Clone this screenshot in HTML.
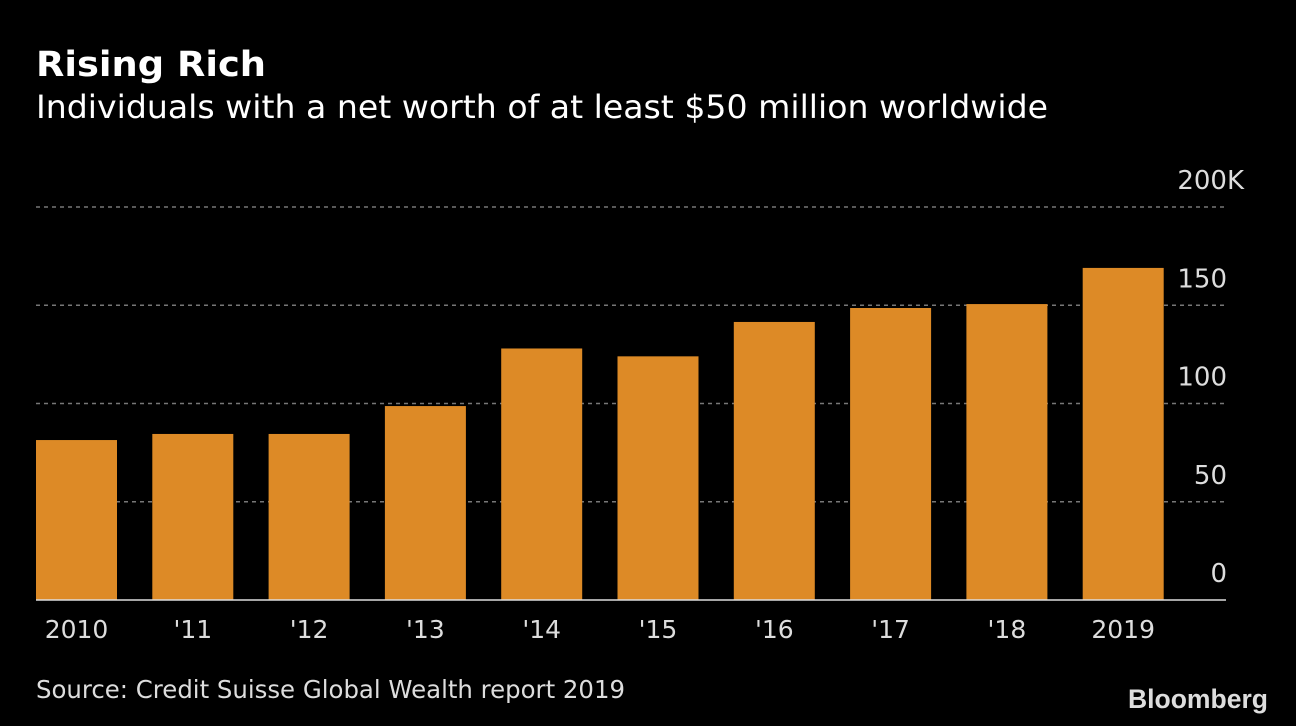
<!DOCTYPE html>
<html><head><meta charset="utf-8"><style>
html,body{margin:0;padding:0;background:#000;}
svg{display:block;font-family:"DejaVu Sans","Liberation Sans",sans-serif;}
</style></head><body>
<svg id="chart" width="1296" height="726" viewBox="0 0 1296 726" xmlns="http://www.w3.org/2000/svg">
<rect width="1296" height="726" fill="#000"/>
<text x="36" y="76" fill="#fff" font-size="35" font-weight="bold" textLength="230" lengthAdjust="spacingAndGlyphs">Rising Rich</text>
<text x="36" y="118" fill="#fff" font-size="32" textLength="1012" lengthAdjust="spacingAndGlyphs">Individuals with a net worth of at least $50 million worldwide</text>
<g id="grid"></g>
<g id="bars"></g>
<g id="xlabels"></g>
<line x1="36" y1="600" x2="1226" y2="600" stroke="#ddd" stroke-width="1.5"/>
<text x="36" y="698" fill="#ddd" font-size="25" textLength="589" lengthAdjust="spacingAndGlyphs">Source: Credit Suisse Global Wealth report 2019</text>
<text x="1268" y="708" fill="#ddd" font-size="27" font-weight="bold" text-anchor="end" textLength="140" lengthAdjust="spacingAndGlyphs" font-family="Liberation Sans, sans-serif">Bloomberg</text>
</svg>
<script>
const categories = ["2010","'11","'12","'13","'14","'15","'16","'17","'18","2019"];
const values = [81.4,84.5,84.5,98.7,128,124,141.5,148.6,150.6,169];
const tickValues = [0,50,100,150,200];
const tickLabels = ["0","50","100","150","200K"];
const NS="http://www.w3.org/2000/svg";
const y0=600, yTop=207, vMax=200;
function yScale(v){return y0-(v/vMax)*(y0-yTop);}
const barStart=36, step=116.3, barW=81;
function xScale(i){return barStart+i*step;}
const grid=document.getElementById('grid');
tickValues.forEach((t,i)=>{
  const y=yScale(t);
  if(t>0){
    const l=document.createElementNS(NS,'line');
    
    
    l.setAttribute('x1',36);l.setAttribute('x2',1226);
    l.setAttribute('y1',y);l.setAttribute('y2',y);
    l.setAttribute('stroke','#777');l.setAttribute('stroke-width','1.5');
    l.setAttribute('stroke-dasharray','4,4');
    grid.appendChild(l);
  }
  const tx=document.createElementNS(NS,'text');
  
  
  const lab=tickLabels[i];
  tx.setAttribute('x', lab.endsWith('K')?1244:1227);
  tx.setAttribute('y',y-18);
  tx.setAttribute('text-anchor','end');
  tx.setAttribute('fill','#ddd');
  tx.setAttribute('font-size','26');
  tx.textContent=lab;
  grid.appendChild(tx);
});
const bars=document.getElementById('bars');
const xl=document.getElementById('xlabels');
categories.forEach((c,i)=>{
  const r=document.createElementNS(NS,'rect');
  
  
  const y=yScale(values[i]);
  r.setAttribute('x',xScale(i));r.setAttribute('y',y);
  r.setAttribute('width',barW);r.setAttribute('height',y0-y);
  r.setAttribute('fill','#dd8a26');
  bars.appendChild(r);
  const t=document.createElementNS(NS,'text');
  
  
  t.setAttribute('x',xScale(i)+barW/2);
  t.setAttribute('y',638);
  t.setAttribute('text-anchor','middle');
  t.setAttribute('fill','#ddd');
  t.setAttribute('font-size','25');
  t.textContent=c;
  xl.appendChild(t);
});
</script>
</body></html>
